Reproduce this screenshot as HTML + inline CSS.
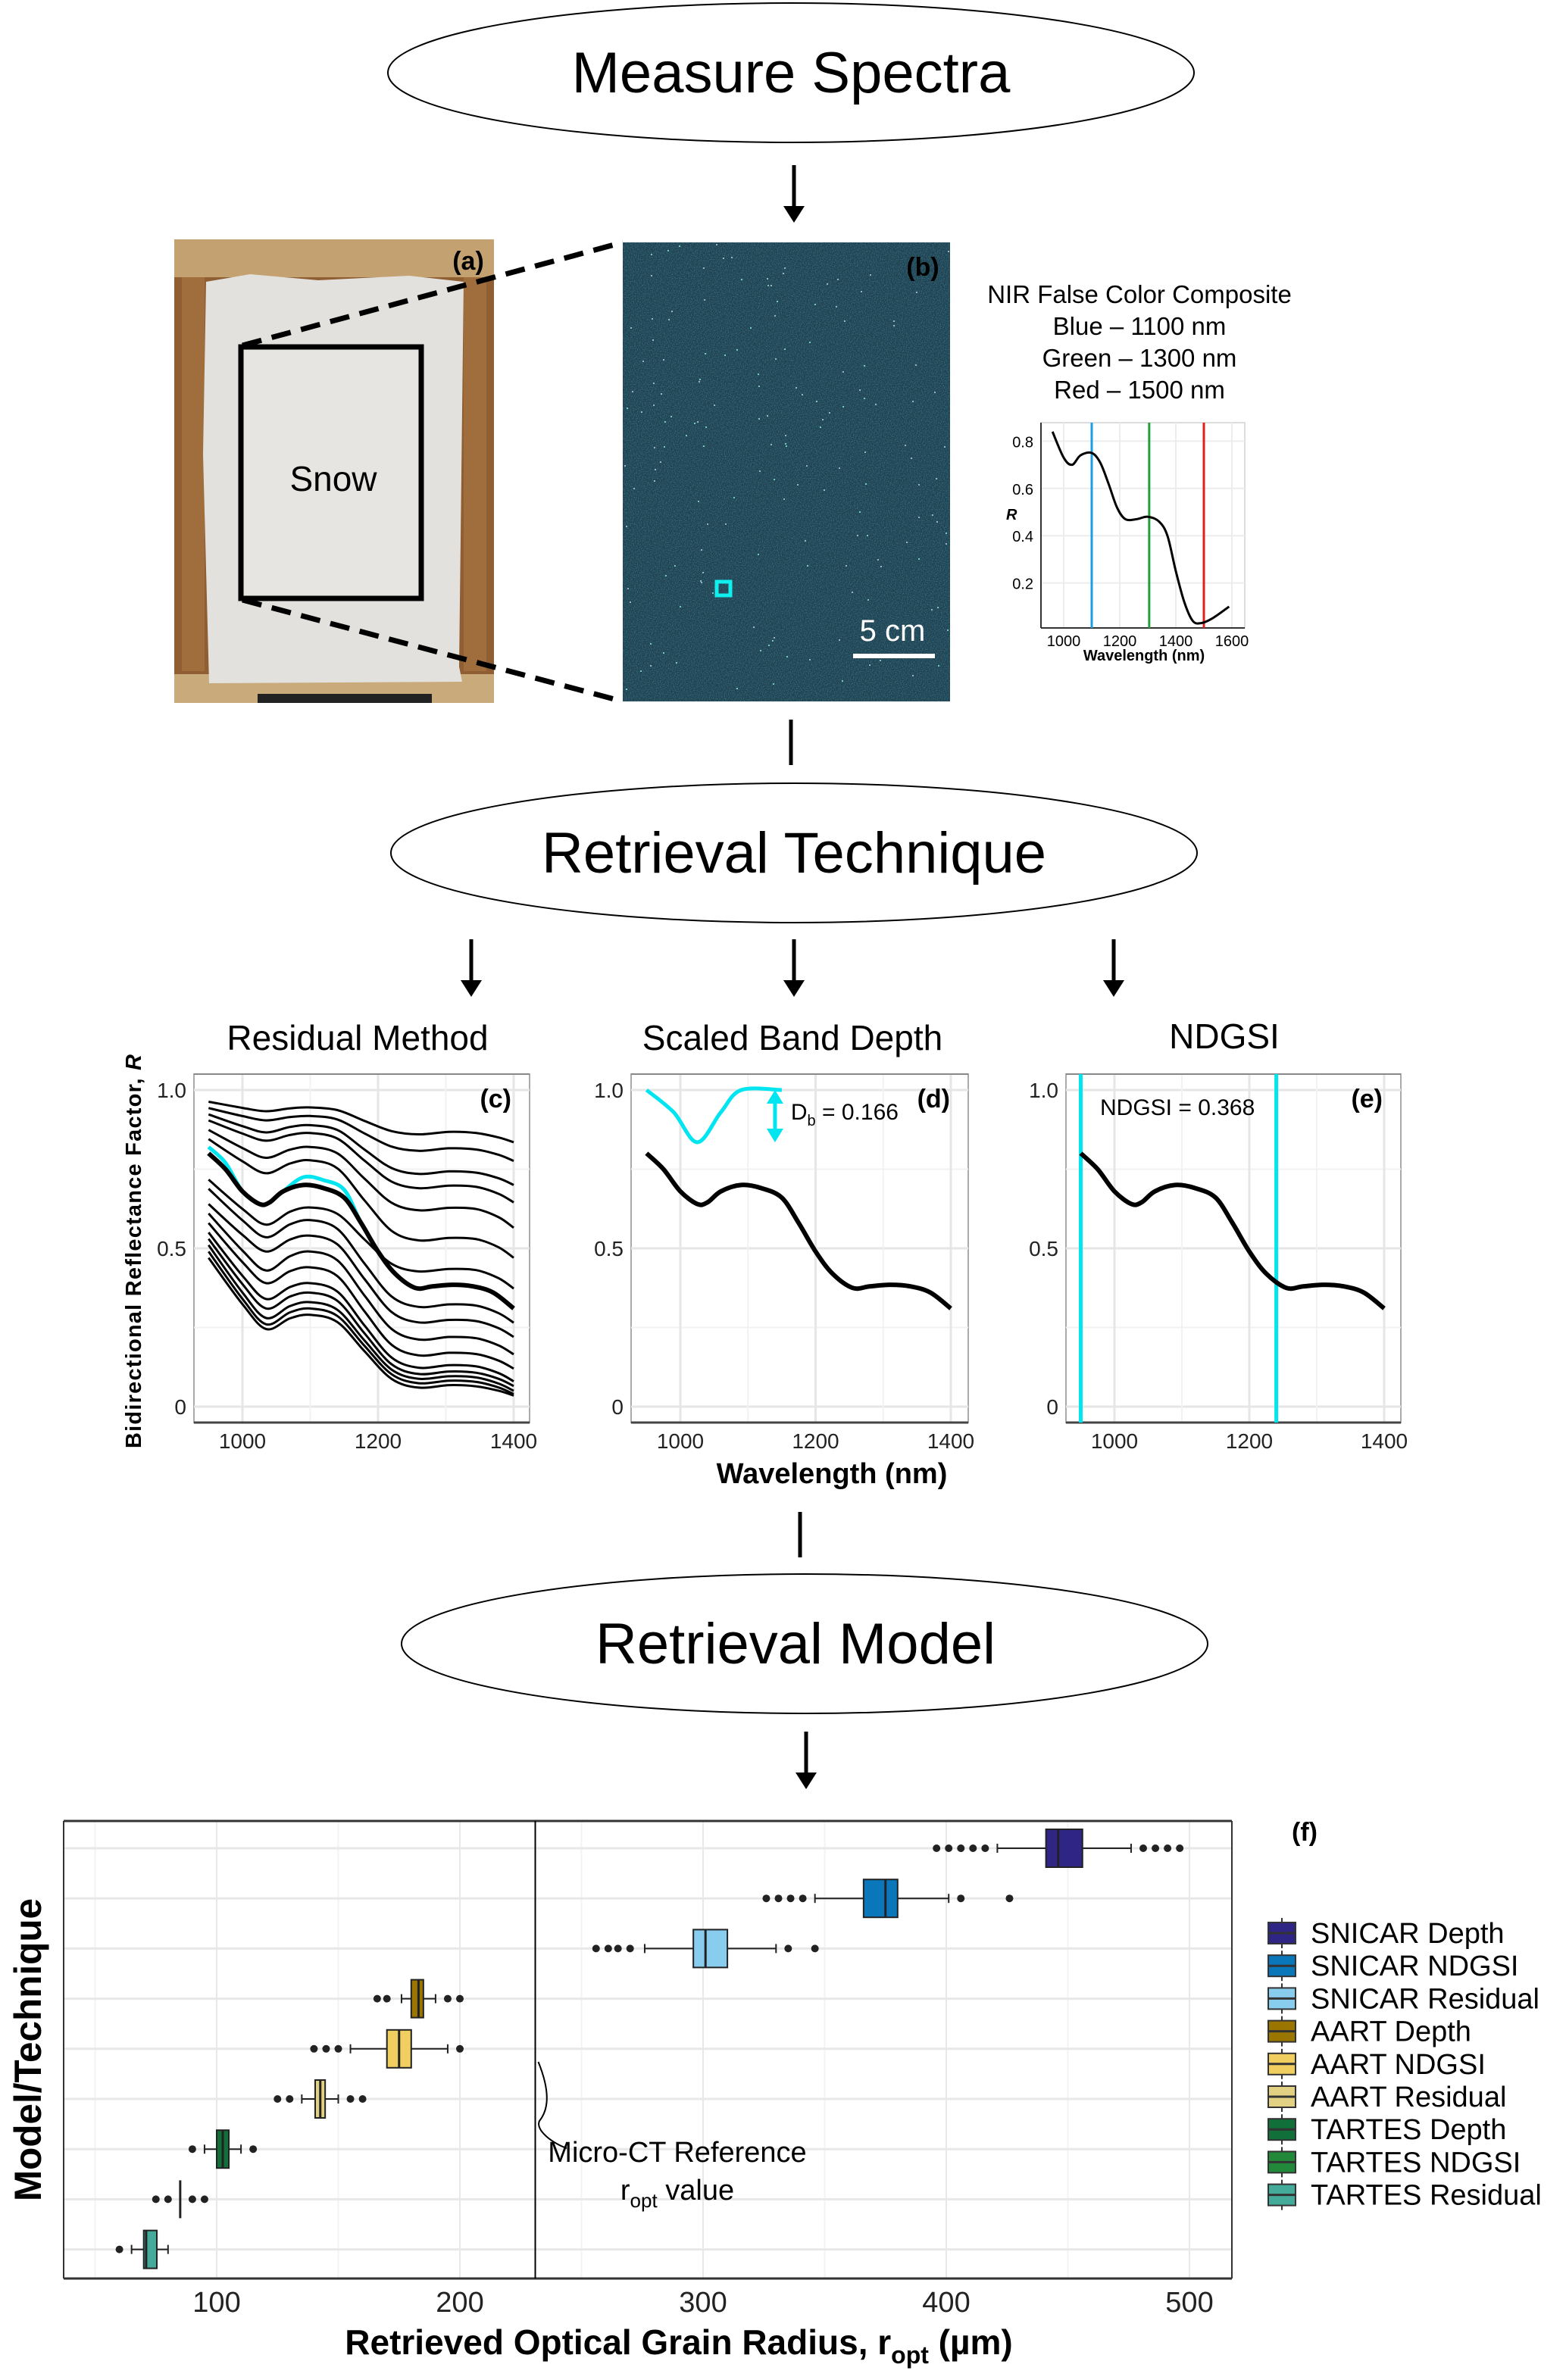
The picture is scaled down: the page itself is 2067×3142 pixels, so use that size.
<!DOCTYPE html>
<html><head><meta charset="utf-8"><style>
html,body{margin:0;padding:0;background:#fff}
svg{display:block}
text{font-family:"Liberation Sans Narrow","Liberation Sans",sans-serif}
</style></head><body>
<svg id="fig" width="2067" height="3142" viewBox="0 0 2067 3142" xmlns="http://www.w3.org/2000/svg">
<defs>
<filter id="noise" x="0" y="0" width="100%" height="100%">
<feTurbulence type="fractalNoise" baseFrequency="0.8" numOctaves="2" seed="3"/>
<feColorMatrix type="matrix" values="0 0 0 0 0.05  0 0 0 0 0.15  0 0 0 0 0.2  3 0 0 0 -1.3"/>
</filter>
</defs>

<g>
<ellipse cx="1044" cy="96" rx="532" ry="92" fill="#fff" stroke="#000" stroke-width="2"/>
<text x="1044" y="122" font-size="76" text-anchor="middle" style="font-family:'Liberation Sans',sans-serif">Measure Spectra</text>
</g>
<g>
<ellipse cx="1048" cy="1126" rx="532" ry="92" fill="#fff" stroke="#000" stroke-width="2"/>
<text x="1048" y="1152" font-size="76" text-anchor="middle" style="font-family:'Liberation Sans',sans-serif">Retrieval Technique</text>
</g>
<g>
<ellipse cx="1062" cy="2170" rx="532" ry="92" fill="#fff" stroke="#000" stroke-width="2"/>
<text x="1050" y="2196" font-size="76" text-anchor="middle" style="font-family:'Liberation Sans',sans-serif">Retrieval Model</text>
</g>

<g stroke="#000" stroke-width="5">
<line x1="1048" y1="218" x2="1048" y2="278"/><path d="M1034,272 L1048,294 L1062,272z" fill="#000" stroke="none"/>
<line x1="1044" y1="950" x2="1044" y2="1010"/>
<line x1="622" y1="1240" x2="622" y2="1300"/><path d="M608,1294 L622,1316 L636,1294z" fill="#000" stroke="none"/>
<line x1="1048" y1="1240" x2="1048" y2="1300"/><path d="M1034,1294 L1048,1316 L1062,1294z" fill="#000" stroke="none"/>
<line x1="1470" y1="1240" x2="1470" y2="1300"/><path d="M1456,1294 L1470,1316 L1484,1294z" fill="#000" stroke="none"/>
<line x1="1056" y1="1996" x2="1056" y2="2056"/>
<line x1="1064" y1="2286" x2="1064" y2="2346"/><path d="M1050,2340 L1064,2362 L1078,2340z" fill="#000" stroke="none"/>
</g>

<g>
<rect x="230" y="316" width="422" height="612" fill="#8f5e32"/>
<rect x="230" y="316" width="422" height="50" fill="#c4a170"/>
<rect x="230" y="890" width="422" height="38" fill="#c9aa7a"/>
<rect x="240" y="366" width="30" height="520" fill="#a06d3c"/>
<rect x="612" y="366" width="30" height="520" fill="#a06d3c"/>
<path d="M272,372 L330,362 L420,370 L540,364 L612,372 L606,880 L610,900 L276,902 L268,600z" fill="#e3e1dd"/>
<rect x="340" y="916" width="230" height="12" fill="#222"/>
<rect x="318" y="458" width="238" height="332" fill="#e7e5e1" stroke="#000" stroke-width="7"/>
<text x="440" y="648" font-size="46" text-anchor="middle" style="font-family:'Liberation Sans',sans-serif">Snow</text>
<text x="618" y="356" font-size="34" font-weight="bold" text-anchor="middle" style="font-family:'Liberation Sans',sans-serif">(a)</text>
</g>
<g stroke="#000" stroke-width="7" stroke-dasharray="26,14">
<line x1="320" y1="456" x2="822" y2="320"/>
<line x1="320" y1="792" x2="822" y2="926"/>
</g>

<g id="nir">
<rect x="822" y="320" width="432" height="606" fill="#1d4252"/>
<rect x="822" y="320" width="432" height="606" filter="url(#noise)"/>
<rect x="946" y="768" width="18" height="18" fill="none" stroke="#1ee" stroke-width="5"/>
<line x1="1126" y1="866" x2="1234" y2="866" stroke="#fff" stroke-width="6"/>
<text x="1178" y="846" font-size="40" fill="#fff" text-anchor="middle" style="font-family:'Liberation Sans',sans-serif">5 cm</text>
<text x="1218" y="364" font-size="34" font-weight="bold" text-anchor="middle" style="font-family:'Liberation Sans',sans-serif">(b)</text>
</g>
<g font-size="33" text-anchor="middle">
<text x="1504" y="400" style="font-family:'Liberation Sans',sans-serif">NIR False Color Composite</text>
<text x="1504" y="442" style="font-family:'Liberation Sans',sans-serif">Blue – 1100 nm</text>
<text x="1504" y="484" style="font-family:'Liberation Sans',sans-serif">Green – 1300 nm</text>
<text x="1504" y="526" style="font-family:'Liberation Sans',sans-serif">Red – 1500 nm</text>
</g>
<g id="mini"></g>

<g font-size="46" text-anchor="middle">
<text x="472" y="1386" style="font-family:'Liberation Sans',sans-serif">Residual Method</text>
<text x="1046" y="1386" style="font-family:'Liberation Sans',sans-serif">Scaled Band Depth</text>
<text x="1616" y="1384" style="font-family:'Liberation Sans',sans-serif">NDGSI</text>
</g>
<g id="panels"></g>
<text x="186" y="1652" font-size="29" font-weight="bold" text-anchor="middle" transform="rotate(-90 186 1652)" textLength="520" lengthAdjust="spacing" style="font-family:'Liberation Sans',sans-serif">Bidirectional Reflectance Factor, <tspan font-style="italic">R</tspan></text>
<text x="1098" y="1958" font-size="38" font-weight="bold" text-anchor="middle" style="font-family:'Liberation Sans',sans-serif">Wavelength (nm)</text>

<g id="box"></g>
</svg>
<script>
const NS="http://www.w3.org/2000/svg";
function mk(parent,tag,attrs,txt){const e=document.createElementNS(NS,tag);for(const k in attrs)e.setAttribute(k,attrs[k]);if(txt!==undefined)e.textContent=txt;parent.appendChild(e);return e;}
function smooth(pts){let d="M"+pts[0][0].toFixed(1)+","+pts[0][1].toFixed(1);for(let i=0;i<pts.length-1;i++){const p0=pts[Math.max(0,i-1)],p1=pts[i],p2=pts[i+1],p3=pts[Math.min(pts.length-1,i+2)];const c1=[p1[0]+(p2[0]-p0[0])/6,p1[1]+(p2[1]-p0[1])/6],c2=[p2[0]-(p3[0]-p1[0])/6,p2[1]-(p3[1]-p1[1])/6];d+=" C"+c1[0].toFixed(1)+","+c1[1].toFixed(1)+" "+c2[0].toFixed(1)+","+c2[1].toFixed(1)+" "+p2[0].toFixed(1)+","+p2[1].toFixed(1);}return d;}

/* ---------- mini spectrum data ---------- */
const miniWl=[960,1000,1030,1060,1100,1130,1160,1190,1220,1260,1300,1340,1370,1400,1430,1460,1490,1530,1590];
const miniR=[0.84,0.73,0.70,0.74,0.75,0.71,0.62,0.52,0.47,0.47,0.48,0.46,0.40,0.25,0.12,0.04,0.03,0.05,0.10];
const miniBands=[1100,1305,1500];
const miniBandColors=["#1a9fe0","#1fa03a","#e02020"];
const miniXTicks=[1000,1200,1400,1600];
const miniYTicks=[0.2,0.4,0.6,0.8];

/* ---------- technique panel data ---------- */
const specWl=[950,975,1000,1025,1040,1060,1090,1120,1150,1175,1200,1225,1255,1280,1310,1340,1370,1400];
const specR=[0.80,0.75,0.68,0.64,0.645,0.68,0.70,0.69,0.66,0.58,0.49,0.42,0.375,0.38,0.385,0.38,0.36,0.31];
const cyanWl=[950,990,1025,1060,1090,1150];
const cyanR=[1.0,0.93,0.835,0.93,1.0,1.0];
const residStart=[0.963,0.943,0.923,0.904,0.874,0.845,0.717,0.688,0.64,0.61,0.58,0.55,0.53,0.51,0.49,0.47];
const residDip=[0.933,0.904,0.866,0.84,0.786,0.737,0.575,0.535,0.49,0.43,0.39,0.34,0.31,0.28,0.26,0.245];
const residPeak=[0.945,0.918,0.889,0.864,0.82,0.778,0.629,0.589,0.54,0.49,0.44,0.39,0.36,0.33,0.31,0.29];
const residFlat=[0.86,0.808,0.735,0.69,0.62,0.525,0.427,0.315,0.266,0.212,0.162,0.123,0.103,0.088,0.074,0.06];
const residEnd=[0.835,0.776,0.70,0.645,0.565,0.47,0.373,0.265,0.22,0.165,0.12,0.08,0.065,0.05,0.04,0.035];
const bandDepth="0.166", ndgsiValue="0.368";
const ndgsiBands=[950,1240];
const panelXTicks=[1000,1200,1400];
const panelYTicks=[0,0.5,1.0];
const panelYTickLabels=["0","0.5","1.0"];

/* ---------- boxplot data ---------- */
const boxCats=["SNICAR Depth","SNICAR NDGSI","SNICAR Residual","AART Depth","AART NDGSI","AART Residual","TARTES Depth","TARTES NDGSI","TARTES Residual"];
const boxColors=["#2e2585","#0a77bb","#88ccee","#9a7600","#f0cf60","#e2d182","#11703a","#22883a","#44aa99"];
const boxQ1=[441,366,296,180,170,140.5,100,85,70];
const boxMed=[446,375,301,183,175,142.6,102.5,85,71];
const boxQ3=[456,380,310,185,180,144.6,105,85,75.4];
const whiskLo=[421,346,276,176,155,135,95,85,65];
const whiskHi=[476,401,330,190,195,150,110,85,80];
const outliers=[[396,401,406,411,416,481,486,491,496],[326,331,336,341,406,426],[256,261,265,270,335,346],[166,170,195,200],[140,145,150,200],[125,130,155,160],[90,115],[75,80,90,95],[60]];
const refValue=231;
const boxXTicks=[100,200,300,400,500];

/* speckle texture in NIR image (decorative) */
(function(){const g=document.getElementById('nir');let s=7;const r=()=>{s=(s*9301+49297)%233280;return s/233280;};
 for(let i=0;i<160;i++){mk(g,'rect',{x:(824+r()*428).toFixed(0),y:(322+r()*600).toFixed(0),width:2,height:2,fill:r()>0.5?'#9fd':'#cde',opacity:0.7});}})();

/* ---------- mini chart ---------- */
(function(){
 const g=document.getElementById('mini');
 const L=1374,R=1643,T=558,B=829;
 const x=w=>1404+(w-1000)*0.37, y=v=>832-v*312;
 mk(g,'rect',{x:L,y:T,width:R-L,height:B-T,fill:'#fff',stroke:'#bbb','stroke-width':1});
 miniYTicks.forEach(v=>{const gl=mk(g,'line',{x1:L,x2:R,y1:y(v),y2:y(v),stroke:'#ececec','stroke-width':2});
  const t=mk(g,'text',{x:L-10,y:y(v)+8,'font-size':20,'text-anchor':'end'},String(v));});
 miniXTicks.forEach(v=>{mk(g,'line',{x1:x(v),x2:x(v),y1:T,y2:B,stroke:'#ececec','stroke-width':2});
  const t=mk(g,'text',{x:x(v),y:B+24,'font-size':20,'text-anchor':'middle'},String(v));});
 mk(g,'line',{x1:L,x2:L,y1:T,y2:B,stroke:'#333','stroke-width':2});
 mk(g,'line',{x1:L,x2:R,y1:B,y2:B,stroke:'#333','stroke-width':2});
 miniBands.forEach((b,i)=>{const l=mk(g,'line',{x1:x(b),x2:x(b),y1:T,y2:B,stroke:miniBandColors[i],'stroke-width':3});});
 const p=mk(g,'path',{d:smooth(miniWl.map((w,i)=>[x(w),y(miniR[i])])),fill:'none',stroke:'#000','stroke-width':3});
 
 mk(g,'text',{x:1328,y:686,'font-size':20,'font-weight':'bold','font-style':'italic'},'R');
 const xt=mk(g,'text',{x:1510,y:872,'font-size':20,'font-weight':'bold','text-anchor':'middle'},'Wavelength (nm)');
})();

/* ---------- technique panels ---------- */
(function(){
 const G=document.getElementById('panels');
 const defs=[{L:256,R:699,x1000:320,x1400:678,lab:'(c)',name:'residual-panel'},{L:833,R:1278,x1000:898,x1400:1255,lab:'(d)',name:'band-depth-panel'},{L:1407,R:1849,x1000:1471,x1400:1827,lab:'(e)',name:'ndgsi-panel'}];
 const T=1418,B=1878,y=v=>1857-v*418;
 defs.forEach((d,pi)=>{
  const g=mk(G,'g',{});
  const x=w=>d.x1000+(w-1000)*(d.x1400-d.x1000)/400;
  mk(g,'rect',{x:d.L,y:T,width:d.R-d.L,height:B-T,fill:'#fff',stroke:'#aaa','stroke-width':2});
  [0.25,0.75].forEach(v=>mk(g,'line',{x1:d.L,x2:d.R,y1:y(v),y2:y(v),stroke:'#f2f2f2','stroke-width':2}));
  panelYTicks.forEach((v,i)=>{mk(g,'line',{x1:d.L,x2:d.R,y1:y(v),y2:y(v),stroke:'#e6e6e6','stroke-width':3});
   const t=mk(g,'text',{x:d.L-10,y:y(v)+10,'font-size':28,'text-anchor':'end',fill:'#222'},panelYTickLabels[i]);});
  [1100,1300].forEach(v=>mk(g,'line',{x1:x(v),x2:x(v),y1:T,y2:B,stroke:'#f2f2f2','stroke-width':2}));
  panelXTicks.forEach(v=>{mk(g,'line',{x1:x(v),x2:x(v),y1:T,y2:B,stroke:'#e6e6e6','stroke-width':3});
   const t=mk(g,'text',{x:x(v),y:B+34,'font-size':28,'text-anchor':'middle',fill:'#222'},String(v));});
  mk(g,'line',{x1:d.L,x2:d.R,y1:B,y2:B,stroke:'#444','stroke-width':3});
  mk(g,'line',{x1:d.L,x2:d.R,y1:T,y2:T,stroke:'#888','stroke-width':2});
  const lab=mk(g,'text',{x:d.R-24,y:T+44,'font-size':34,'font-weight':'bold','text-anchor':'end'},d.lab);
  const spec=specWl.map((w,i)=>[x(w),y(specR[i])]);
  if(pi===0){
   residStart.forEach((s,i)=>{const dp=residDip[i],pk=residPeak[i],f=residFlat[i],e=residEnd[i];
    const pts=[[950,s],[1000,dp+(s-dp)*0.35],[1035,dp],[1070,dp+(pk-dp)*0.75],[1100,pk],[1140,pk-(pk-f)*0.1],[1180,pk-(pk-f)*0.5],[1220,pk-(pk-f)*0.88],[1260,f],[1305,f+0.008],[1345,f+0.004],[1378,f-(f-e)*0.4],[1400,e]];
    const p=mk(g,'path',{d:smooth(pts.map(q=>[x(q[0]),y(q[1])])),fill:'none',stroke:'#000','stroke-width':3});
    });
   const c=mk(g,'path',{d:smooth(specWl.map((w,i)=>[x(w),y(specR[i]+(w>1060&&w<1160?0.025:0)+(w<1000?0.02:0))])),fill:'none',stroke:'#00e5f0','stroke-width':5});
   
  }
  if(pi===1){
   const c=mk(g,'path',{d:smooth(cyanWl.map((w,i)=>[x(w),y(cyanR[i])])),fill:'none',stroke:'#00e5f0','stroke-width':5});
   
   const ax=x(1140);
   const a=mk(g,'g',{});
   mk(a,'line',{x1:ax,x2:ax,y1:y(1.0)+14,y2:y(0.835)-14,stroke:'#00e5f0','stroke-width':5});
   mk(a,'path',{d:`M${ax-11},${y(1.0)+18} L${ax},${y(1.0)} L${ax+11},${y(1.0)+18}z`,fill:'#00e5f0'});
   mk(a,'path',{d:`M${ax-11},${y(0.835)-18} L${ax},${y(0.835)} L${ax+11},${y(0.835)-18}z`,fill:'#00e5f0'});
   const t=mk(g,'text',{x:x(1150)+12,y:1478,'font-size':30},'');
   t.innerHTML='D<tspan font-size="20" dy="8">b</tspan><tspan dy="-8"> = '+bandDepth+'</tspan>';
  }
  if(pi===2){
   ndgsiBands.forEach(b=>{const l=mk(g,'line',{x1:x(b),x2:x(b),y1:T,y2:B,stroke:'#00e5f0','stroke-width':5});});
   const t=mk(g,'text',{x:1452,y:1472,'font-size':30},'NDGSI = '+ndgsiValue);
  }
  const p=mk(g,'path',{d:smooth(spec),fill:'none',stroke:'#000','stroke-width':6});
  
 });
})();

/* ---------- boxplot ---------- */
(function(){
 const g=document.getElementById('box');
 const L=84,R=1626,T=2404,B=3008;
 const x=v=>286+(v-100)*3.21;
 const rowY=i=>2440+i*66.2;
 mk(g,'rect',{x:L,y:T,width:R-L,height:B-T,fill:'#fff'});
 [50,150,250,350,450].forEach(v=>mk(g,'line',{x1:x(v),x2:x(v),y1:T,y2:B,stroke:'#f3f3f3','stroke-width':2}));
 boxXTicks.forEach(v=>{mk(g,'line',{x1:x(v),x2:x(v),y1:T,y2:B,stroke:'#e8e8e8','stroke-width':2});
  const t=mk(g,'text',{x:x(v),y:3052,'font-size':38,'text-anchor':'middle',fill:'#222'},String(v));});
 boxCats.forEach((c,i)=>mk(g,'line',{x1:L,x2:R,y1:rowY(i),y2:rowY(i),stroke:'#e8e8e8','stroke-width':3}));
 mk(g,'line',{x1:L,x2:R,y1:T,y2:T,stroke:'#333','stroke-width':3});
 mk(g,'line',{x1:L,x2:R,y1:B,y2:B,stroke:'#333','stroke-width':3});
 mk(g,'line',{x1:L,x2:L,y1:T,y2:B,stroke:'#333','stroke-width':2});
 mk(g,'line',{x1:R,x2:R,y1:T,y2:B,stroke:'#333','stroke-width':2});
 const ref=mk(g,'line',{x1:x(refValue),x2:x(refValue),y1:T,y2:B,stroke:'#000','stroke-width':2});
 
 boxCats.forEach((c,i)=>{
  const bg=mk(g,'g',{});
  const cy=rowY(i),h=50;
  mk(bg,'line',{x1:x(whiskLo[i]),x2:x(whiskHi[i]),y1:cy,y2:cy,stroke:'#222','stroke-width':2});
  [whiskLo[i],whiskHi[i]].forEach(v=>mk(bg,'line',{x1:x(v),x2:x(v),y1:cy-6,y2:cy+6,stroke:'#222','stroke-width':2}));
  if(boxQ3[i]>boxQ1[i]) mk(bg,'rect',{x:x(boxQ1[i]),y:cy-h/2,width:x(boxQ3[i])-x(boxQ1[i]),height:h,fill:boxColors[i],stroke:'#222','stroke-width':2});
  mk(bg,'line',{x1:x(boxMed[i]),x2:x(boxMed[i]),y1:cy-h/2,y2:cy+h/2,stroke:'#222','stroke-width':3});
  outliers[i].forEach(v=>{const o=mk(bg,'circle',{cx:x(v),cy:cy,r:5,fill:'#222'});});
 });
 const ann=mk(g,'g',{});
 mk(ann,'path',{d:`M${x(refValue)+4},2722 C730,2770 720,2790 712,2800 C706,2812 730,2830 748,2836`,fill:'none',stroke:'#000','stroke-width':2});
 mk(ann,'text',{x:894,y:2854,'font-size':38,'text-anchor':'middle'},'Micro-CT Reference');
 const t2=mk(ann,'text',{x:894,y:2904,'font-size':38,'text-anchor':'middle'},'');
 t2.innerHTML='r<tspan font-size="26" dy="10">opt</tspan><tspan dy="-10"> value</tspan>';
 const yt=mk(g,'text',{x:54,y:2706,'font-size':50,'font-weight':'bold','text-anchor':'middle',transform:'rotate(-90 54 2706)',textLength:400,lengthAdjust:'spacingAndGlyphs',style:"font-family:'Liberation Sans',sans-serif"},'Model/Technique');
 
 const xt=mk(g,'text',{x:896,y:3108,'font-size':46,'font-weight':'bold','text-anchor':'middle'},'');
 
 xt.innerHTML='Retrieved Optical Grain Radius, r<tspan font-size="32" dy="12">opt</tspan><tspan dy="-12"> (µm)</tspan>';
 const f=mk(g,'text',{x:1722,y:2430,'font-size':34,'font-weight':'bold','text-anchor':'middle'},'(f)');
 
 boxCats.forEach((c,i)=>{
  const ly=2552+i*43.2;
  const e=mk(g,'g',{});
  mk(e,'line',{x1:1692,x2:1692,y1:ly-20,y2:ly+20,stroke:'#333','stroke-width':2});
  mk(e,'rect',{x:1674,y:ly-14,width:36,height:28,fill:boxColors[i],stroke:'#333','stroke-width':2});
  mk(e,'line',{x1:1674,x2:1710,y1:ly,y2:ly,stroke:'#333','stroke-width':3});
  mk(e,'text',{x:1730,y:ly+13,'font-size':38,style:"font-family:'Liberation Sans',sans-serif"},c);
 });
})();
</script>
</body></html>
